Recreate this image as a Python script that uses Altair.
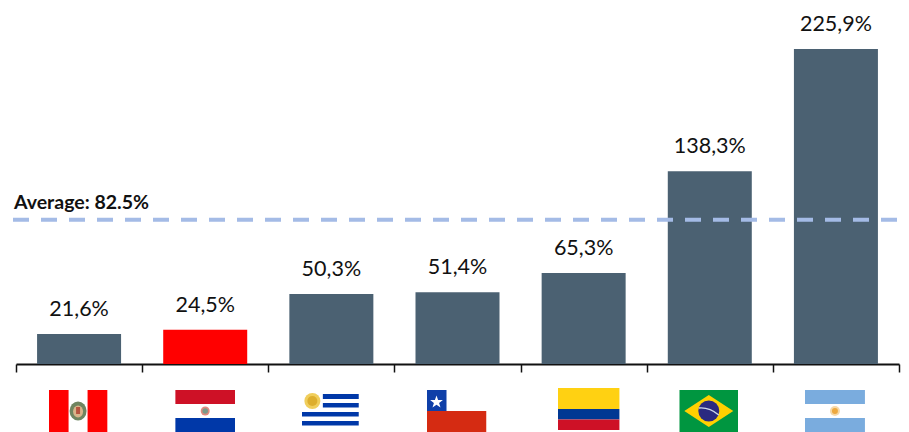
import base64
import altair as alt
import pandas as pd

countries = ["Peru", "Paraguay", "Uruguay", "Chile", "Colombia", "Brazil", "Argentina"]
values = [21.6, 24.5, 50.3, 51.4, 65.3, 138.3, 225.9]
labels = ["21,6%", "24,5%", "50,3%", "51,4%", "65,3%", "138,3%", "225,9%"]
colors = ["#4B6172", "#FF0000", "#4B6172", "#4B6172", "#4B6172", "#4B6172", "#4B6172"]
average_label = "Average: 82.5%"
average_drawn_at = 103.5  # height at which the reference draws the line

flag_width = [59, 60, 57, 60, 62, 59, 60]
flag_height = [42, 42, 37, 42, 42, 42, 42]
flag_top = [26, 26, 27, 26, 24, 26, 26]
flag_shift = [-1, 0, -1, -1, 5, -1, -1]

flags = {
    "Peru": '<svg xmlns="http://www.w3.org/2000/svg" viewBox="0 0 59 42" preserveAspectRatio="none"><rect width="59" height="42" fill="#fff"/><rect width="20" height="42" fill="#f00"/><rect x="39" width="20" height="42" fill="#f00"/><ellipse cx="29.5" cy="21" rx="8.5" ry="9.5" fill="#6f8560"/><ellipse cx="29.5" cy="21.5" rx="5" ry="6" fill="#d8b48a"/><rect x="27.5" y="17" width="4" height="7" fill="#b7543f"/></svg>',
    "Paraguay": '<svg xmlns="http://www.w3.org/2000/svg" viewBox="0 0 60 42" preserveAspectRatio="none"><rect width="60" height="14" fill="#CE1126"/><rect y="14" width="60" height="14" fill="#fff"/><rect y="28" width="60" height="14" fill="#0038A8"/><circle cx="30" cy="21" r="4.5" fill="#e08a80"/><circle cx="30" cy="21" r="2.8" fill="#7a9a8a"/></svg>',
    "Uruguay": '<svg xmlns="http://www.w3.org/2000/svg" viewBox="0 0 57 37" preserveAspectRatio="none"><rect width="57" height="37" fill="#fff"/><rect x="21" y="3" width="36" height="5" fill="#0038A8"/><rect x="21" y="12" width="36" height="4.5" fill="#0038A8"/><rect y="21" width="57" height="4.5" fill="#0038A8"/><rect y="30" width="57" height="4.5" fill="#0038A8"/><circle cx="10.5" cy="10" r="8" fill="#F0CE5C"/><circle cx="10.5" cy="10" r="5" fill="#DDAE2E"/></svg>',
    "Chile": '<svg xmlns="http://www.w3.org/2000/svg" viewBox="0 0 60 42" preserveAspectRatio="none"><rect width="60" height="21" fill="#fff"/><rect y="21" width="60" height="21" fill="#D52B12"/><rect width="20" height="21" fill="#0F3FA8"/><polygon points="10,5.5 11.6,10 16.4,10 12.6,13 14,17.5 10,14.8 6,17.5 7.4,13 3.6,10 8.4,10" fill="#fff"/></svg>',
    "Colombia": '<svg xmlns="http://www.w3.org/2000/svg" viewBox="0 0 62 42" preserveAspectRatio="none"><rect width="62" height="21" fill="#FFD112"/><rect y="21" width="62" height="10.5" fill="#003893"/><rect y="31.5" width="62" height="10.5" fill="#CE1126"/></svg>',
    "Brazil": '<svg xmlns="http://www.w3.org/2000/svg" viewBox="0 0 59 42" preserveAspectRatio="none"><rect width="59" height="42" fill="#009640"/><polygon points="5,21 29.5,5 54,21 29.5,37" fill="#FFD000"/><circle cx="29.5" cy="21" r="10.5" fill="#2B2A80"/><path d="M19.5 18 Q30 17 39.5 25" stroke="#cfd8e8" stroke-width="1.4" fill="none"/></svg>',
    "Argentina": '<svg xmlns="http://www.w3.org/2000/svg" viewBox="0 0 60 42" preserveAspectRatio="none"><rect width="60" height="42" fill="#fff"/><rect width="60" height="14" fill="#7AACDE"/><rect y="28" width="60" height="14" fill="#7AACDE"/><circle cx="30" cy="21" r="5" fill="#F6D9A8"/><circle cx="30" cy="21" r="3" fill="#EDA93F"/></svg>',
}


def data_uri(svg):
    return "data:image/svg+xml;base64," + base64.b64encode(svg.encode()).decode()


df = pd.DataFrame({"country": countries, "value": values, "label": labels, "color": colors})

x = alt.X(
    "country:N",
    sort=countries,
    title=None,
    scale=alt.Scale(paddingInner=0, paddingOuter=0),
    axis=alt.Axis(
        labels=False, tickBand="extent", tickSize=8, tickWidth=1.5, tickColor="#111",
        domainColor="#111", domainWidth=2, grid=False, title=None,
    ),
)
y = alt.Y("value:Q", axis=None, scale=alt.Scale(domain=[0, 255.4], nice=False))

bars = alt.Chart(df).mark_bar(width=84).encode(x=x, y=y, color=alt.Color("color:N", scale=None))
text = alt.Chart(df).mark_text(font="Lato", fontSize=21.5, color="#111", baseline="middle", yOffset=-24).encode(
    x=x, y=y, text="label:N"
)
avg_df = pd.DataFrame({"value": [average_drawn_at], "label": [average_label]})
rule = alt.Chart(avg_df).mark_rule(color="#A4BBE6", strokeWidth=4, strokeDash=[16, 12]).encode(
    y=y, x=alt.value(-3), x2=alt.value(883)
)
avg_text = alt.Chart(avg_df).mark_text(
    font="Lato", fontSize=19.5, fontWeight="bold", color="#111", align="left", baseline="middle", yOffset=-17
).encode(y=y, x=alt.value(-2), text="label:N")

layers = [bars, text, rule, avg_text]
for c, w, h, top, shift in zip(countries, flag_width, flag_height, flag_top, flag_shift):
    d = pd.DataFrame({"country": [c], "url": [data_uri(flags[c])]})
    layers.append(
        alt.Chart(d).mark_image(width=w, height=h, align="center", baseline="top", xOffset=shift, clip=False, aspect=False).encode(
            x=x, y=alt.value(356 + top), url="url:N"
        )
    )

chart = (
    alt.layer(*layers)
    .properties(
        width=883, height=356,
        autosize=alt.AutoSizeParams(type="none"),
        padding={"left": 8, "top": 0, "right": 2, "bottom": 68},
        background="white",
    )
    .configure_view(stroke=None)
)
chart.save("out.html", embed_options={"renderer": "svg", "actions": False})
